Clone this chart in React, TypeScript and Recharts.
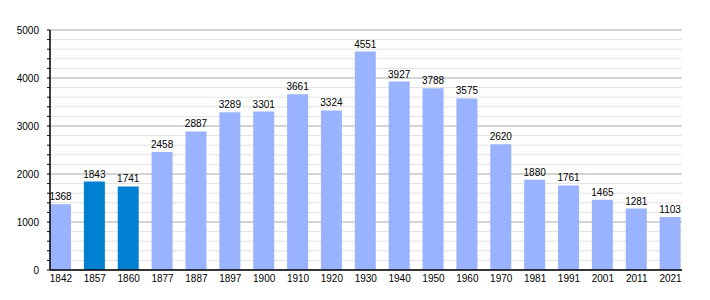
import React from 'react';
import { BarChart, Bar, XAxis, YAxis, CartesianGrid, LabelList, Cell } from 'recharts';

const years = ['1842', '1857', '1860', '1877', '1887', '1897', '1900', '1910', '1920', '1930', '1940', '1950', '1960', '1970', '1981', '1991', '2001', '2011', '2021'];
const population = [1368, 1843, 1741, 2458, 2887, 3289, 3301, 3661, 3324, 4551, 3927, 3788, 3575, 2620, 1880, 1761, 1465, 1281, 1103];
const highlightedYears = ['1857', '1860'];
const yTicks = [0, 200, 400, 600, 800, 1000, 1200, 1400, 1600, 1800, 2000, 2200, 2400, 2600, 2800, 3000, 3200, 3400, 3600, 3800, 4000, 4200, 4400, 4600, 4800, 5000];

const data = years.map((year, i) => ({ year, value: population[i] }));

const font = { fontFamily: '"Liberation Sans", Arial, sans-serif', fontSize: 10, fill: '#000' };

// every fifth grid line (multiples of 1000) is darker
const gridLine = (p: any) => (
  <line
    key={`h-${p.index}`}
    x1={p.x1}
    y1={p.y1}
    x2={p.x2}
    y2={p.y2}
    stroke={p.index % 5 === 0 ? '#a8a8a8' : '#e2e2e2'}
    strokeWidth={1}
  />
);

export default function App() {
  return (
    <div style={{ position: 'absolute', left: 0, top: 0, background: '#fff' }}>
      <BarChart width={710} height={300} data={data} margin={{ top: 30, right: 28, bottom: 0, left: 0 }}>
        <CartesianGrid vertical={false} horizontal={gridLine} />
        <XAxis
          dataKey="year"
          height={30}
          padding={{ left: -6, right: -5.5 }}
          tickLine={false}
          axisLine={{ stroke: '#000', strokeWidth: 1.5 }}
          tick={font}
          tickSize={3}
          interval={0}
        />
        <YAxis
          width={50}
          domain={[0, 5000]}
          ticks={yTicks}
          interval={0}
          tickSize={3}
          tickMargin={8}
          tickLine={{ stroke: '#000' }}
          axisLine={{ stroke: '#000', strokeWidth: 1.5 }}
          tick={font}
          tickFormatter={(v: number) => (v % 1000 === 0 ? String(v) : '')}
        />
        <Bar dataKey="value" barSize={21} isAnimationActive={false}>
          {data.map((d) => (
            <Cell key={d.year} fill={highlightedYears.includes(d.year) ? '#0080D0' : '#99B3FF'} />
          ))}
          <LabelList dataKey="value" position="top" offset={4} style={font} />
        </Bar>
      </BarChart>
    </div>
  );
}
